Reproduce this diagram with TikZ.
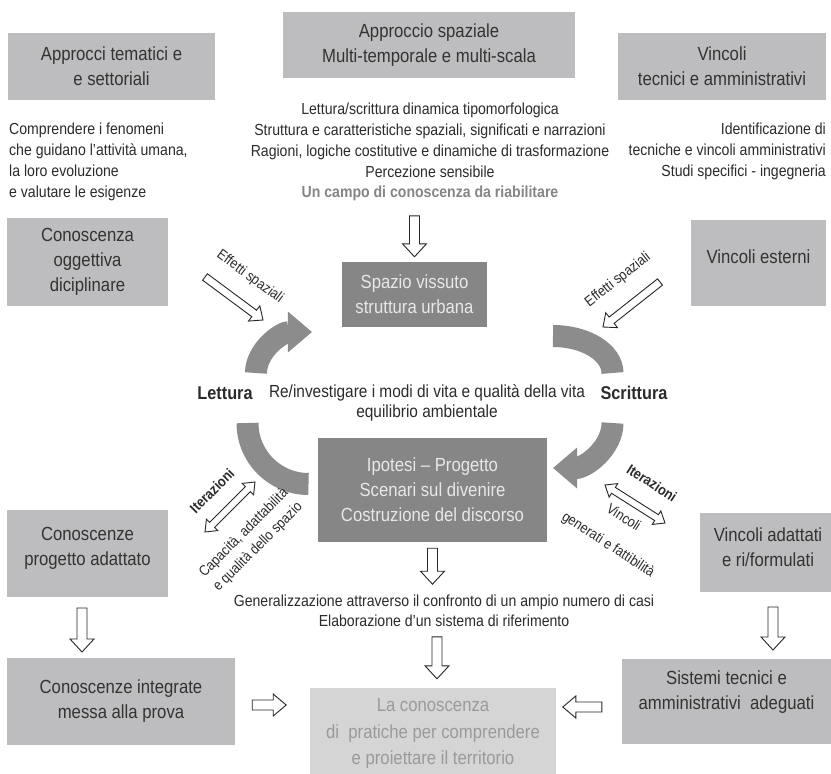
\documentclass[tikz,border=0pt]{standalone}
\usepackage{fontspec}
\setmainfont{Liberation Sans}[FakeStretch=0.88]
\usetikzlibrary{calc,arrows.meta}
\definecolor{lboxc}{HTML}{BDBDBF}
\definecolor{dboxc}{HTML}{868686}
\definecolor{pboxc}{HTML}{D5D5D5}
\definecolor{inkc}{HTML}{2B2B2B}
\definecolor{btxtc}{HTML}{333333}
\definecolor{dtxtc}{HTML}{E8E8E8}
\definecolor{ptxtc}{HTML}{9A9A9A}
\definecolor{arcc}{HTML}{8C8C8C}
\definecolor{campoc}{HTML}{858585}
\newcommand\boxfont{\fontsize{19}{25}\selectfont}
\newcommand\notefont{\fontsize{16}{21}\selectfont}
\newcommand\smallnote{\fontsize{14.5}{20}\selectfont}
\newcommand\hollowarr[5]{%
  \coordinate (hc) at ($(#5)!#3!(#4)$);
  \draw[hollow] ($(#4)!#1!90:(#5)$) -- ($(hc)!#1!-90:(#4)$) -- ($(hc)!#2!-90:(#4)$) -- (#5)
    -- ($(hc)!#2!90:(#4)$) -- ($(hc)!#1!90:(#4)$) -- ($(#4)!#1!-90:(#5)$) -- cycle;}
\newcommand\dhollowarr[5]{%
  \coordinate (hca) at ($(#4)!#3!(#5)$);
  \coordinate (hcb) at ($(#5)!#3!(#4)$);
  \draw[hollow] (#4) -- ($(hca)!#2!90:(#5)$) -- ($(hca)!#1!90:(#5)$) -- ($(hcb)!#1!-90:(#4)$)
    -- ($(hcb)!#2!-90:(#4)$) -- (#5) -- ($(hcb)!#2!90:(#4)$) -- ($(hcb)!#1!90:(#4)$)
    -- ($(hca)!#1!-90:(#5)$) -- ($(hca)!#2!-90:(#5)$) -- cycle;}
\begin{document}
\begin{tikzpicture}[x=1pt,y=-1pt,
  box/.style={rectangle, inner sep=0pt, align=center, font=\boxfont, text=btxtc},
  lightbox/.style={box, fill=lboxc},
  darkbox/.style={box, fill=dboxc, text=dtxtc},
  palebox/.style={box, fill=pboxc, text=ptxtc},
  boxtext/.style={inner sep=0pt, align=center, font=\boxfont, text=btxtc},
  note/.style={inner sep=0pt, font=\notefont, text=inkc},
  snote/.style={inner sep=0pt, font=\smallnote, text=inkc},
  bnote/.style={inner sep=0pt, font=\bfseries\smallnote, text=inkc},
  hollow/.style={draw=black!85, fill=white, line width=0.9pt, line join=miter},
  cyc/.style={draw=arcc, line width=22pt},
  cychead/.style={-{Triangle[length=0pt 1.1, width=0pt 1.8]}}
]
\useasboundingbox (0,0) rectangle (831,774);
\fill[white] (0,0) rectangle (831,774);

% top row
\node[lightbox, minimum width=207pt, minimum height=67pt] (b1) at (111.5,66.5) {Approcci tematici e\\e settoriali};
\node[lightbox, minimum width=292pt, minimum height=66pt] (b2) at (429,45) {Approccio spaziale\\Multi-temporale e multi-scala};
\node[lightbox, minimum width=208pt, minimum height=67pt] (b3) at (722,66.5) {Vincoli\\tecnici e amministrativi};

% annotations
\node[note, anchor=west, align=left] (t1) at (9,161.5) {Comprendere i fenomeni\\che guidano l'attività umana,\\la loro evoluzione\\e valutare le esigenze};
\node[note, align=center] (t2) at (430,140.5) {Lettura/scrittura dinamica tipomorfologica\\Struttura e caratteristiche spaziali, significati e narrazioni\\Ragioni, logiche costitutive e dinamiche di trasformazione\\Percezione sensibile};
\node[note, font=\bfseries\notefont, text=campoc] (t2b) at (430,193) {Un campo di conoscenza da riabilitare};
\node[note, anchor=east, align=right] (t3) at (826,151) {Identificazione di\\tecniche e vincoli amministrativi\\Studi specifici - ingegneria};

% second row
\node[lightbox, minimum width=161pt, minimum height=88pt] (b4) at (87.5,262) {Conoscenza\\oggettiva\\diciplinare};
\node[lightbox, minimum width=135pt, minimum height=86pt] (b5) at (758.5,263) {};
\node[boxtext] (b5t) at (758.5,257) {Vincoli esterni};
\node[darkbox, minimum width=145pt, minimum height=65pt] (sp) at (414.5,294.5) {Spazio vissuto\\struttura urbana};

% cycle arcs
\draw[cyc, cychead] (256,373) arc[start angle=180, end angle=270, x radius=56, y radius=41];
\draw[cyc] (553,336) arc[start angle=270, end angle=360, x radius=59.5, y radius=37];
\draw[cyc, cychead] (612.5,423) arc[start angle=0, end angle=90, x radius=59.5, y radius=45];
\draw[cyc] (247.5,423) arc[start angle=180, end angle=90, radius=61];

\node[inner sep=0pt, font=\bfseries\fontsize{18.5}{22}\selectfont, text=inkc] (let) at (225,393) {Lettura};
\node[inner sep=0pt, font=\bfseries\fontsize{18.5}{22}\selectfont, text=inkc] (scr) at (634,393) {Scrittura};
\node[inner sep=0pt, align=center, font=\fontsize{17.5}{20}\selectfont, text=inkc] (re) at (427,402.5) {Re/investigare i modi di vita e qualità della vita\\equilibrio ambientale};

\node[darkbox, minimum width=229pt, minimum height=104pt] (ip) at (432.5,490) {Ipotesi – Progetto\\Scenari sul divenire\\Costruzione del discorso};

% effetti spaziali
\coordinate (e1a) at (205,277); \coordinate (e1b) at (263,320);
\hollowarr{4pt}{9.5pt}{11pt}{e1a}{e1b}
\node[snote, rotate=-36.5] (e1t) at (250,277) {Effetti spaziali};
\coordinate (e2a) at (660,282); \coordinate (e2b) at (603,327);
\hollowarr{4pt}{9.5pt}{11pt}{e2a}{e2b}
\node[snote, rotate=38] (e2t) at (618,280) {Effetti spaziali};

% iterazioni
\coordinate (i1a) at (205,532); \coordinate (i1b) at (255,482);
\dhollowarr{3.5pt}{8pt}{10pt}{i1a}{i1b}
\node[bnote, rotate=45] (i1t) at (212,491) {Iterazioni};
\node[snote, rotate=45, align=center] (i1c) at (251,540) {Capacità, adattabilità\\e qualità dello spazio};
\coordinate (i2a) at (605,485); \coordinate (i2b) at (665,523);
\dhollowarr{3.5pt}{8pt}{10pt}{i2a}{i2b}
\node[bnote, rotate=-33] (i2t) at (652,483) {Iterazioni};
\node[snote, rotate=-33] (i2v) at (624,517) {Vincoli};
\node[snote, rotate=-33] (i2g) at (608,545) {generati e fattibilità};

% side boxes middle
\node[lightbox, minimum width=161pt, minimum height=87pt] (cpa) at (87.5,553.5) {};
\node[boxtext] (cpat) at (87.5,548.5) {Conoscenze\\progetto adattato};
\node[lightbox, minimum width=131pt, minimum height=79pt] (va) at (765.5,552.5) {};
\node[boxtext] (vat) at (768,547.5) {Vincoli adattati\\e ri/formulati};

% generalizzazione
\node[inner sep=0pt, align=center, font=\fontsize{16}{20}\selectfont, text=inkc] (gen) at (444,611) {Generalizzazione attraverso il confronto di un ampio numero di casi\\Elaborazione d'un sistema di riferimento};

% bottom row
\node[lightbox, minimum width=228pt, minimum height=87pt] (ci) at (121,701.5) {Conoscenze integrate\\messa alla prova};
\node[palebox, minimum width=246pt, minimum height=86pt] (lc) at (433,731) {};
\node[boxtext, text=ptxtc, font=\fontsize{19}{26.5}\selectfont] (lct) at (433,733.5) {La conoscenza\\di~ pratiche per comprendere\\e proiettare il territorio};
\node[lightbox, minimum width=209pt, minimum height=85pt] (si) at (726.5,701.5) {};
\node[boxtext] (sit) at (726.5,692) {Sistemi tecnici e\\amministrativi~ adeguati};

% vertical hollow arrows
\coordinate (a1a) at ([yshift=46pt]sp.north); \coordinate (a1b) at ([yshift=5pt]sp.north);
\hollowarr{5pt}{12pt}{13pt}{a1a}{a1b}
\coordinate (a2a) at ([yshift=-6pt]ip.south); \coordinate (a2b) at ([yshift=-42pt]ip.south);
\hollowarr{5pt}{12pt}{13pt}{a2a}{a2b}
\coordinate (a3a) at ([xshift=4pt,yshift=51pt]lc.north); \coordinate (a3b) at ([xshift=4pt,yshift=9pt]lc.north);
\hollowarr{5pt}{12pt}{13pt}{a3a}{a3b}
\coordinate (a4a) at (82,608); \coordinate (a4b) at (82,652);
\hollowarr{5pt}{12pt}{13pt}{a4a}{a4b}
\coordinate (a5a) at (773,607); \coordinate (a5b) at (773,650);
\hollowarr{5pt}{12pt}{13pt}{a5a}{a5b}
% horizontal
\coordinate (a6a) at ([xshift=17pt]ci.east |- 0,705); \coordinate (a6b) at ([xshift=51pt]ci.east |- 0,705);
\hollowarr{5pt}{11pt}{13pt}{a6a}{a6b}
\coordinate (a7a) at ([xshift=-20pt]si.west |- 0,707); \coordinate (a7b) at ([xshift=-59pt]si.west |- 0,707);
\hollowarr{5pt}{11pt}{13pt}{a7a}{a7b}
\end{tikzpicture}
\end{document}
